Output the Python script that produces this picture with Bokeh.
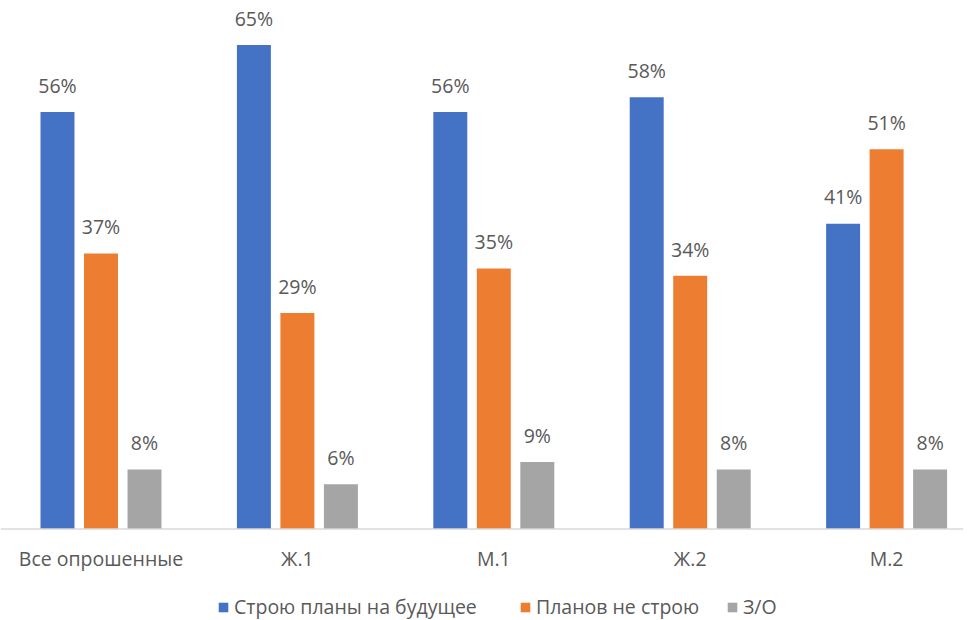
from bokeh.plotting import figure
from bokeh.models import ColumnDataSource, Span, Legend, LegendItem, Range1d
from bokeh.transform import dodge
from bokeh.core.properties import value
from bokeh.embed import file_html
from bokeh.resources import INLINE

categories = ["Все опрошенные", "Ж.1", "М.1", "Ж.2", "М.2"]
series_names = ["Строю планы на будущее", "Планов не строю", "З/О"]
plans = [56, 65, 56, 58, 41]
no_plans = [37, 29, 35, 34, 51]
no_answer = [8, 6, 9, 8, 8]
colors = ["#4472C4", "#ED7D31", "#A5A5A5"]

FONT = "Open Sans"
TXT = "#595959"

xs = list(range(len(categories)))
p = figure(width=963, height=620, output_backend="svg", toolbar_location=None,
           x_range=Range1d(-0.5117, 4.3915), y_range=Range1d(-12.29, 70.98),
           min_border=0)
p.axis.visible = False
p.grid.visible = False
p.outline_line_color = None

series = [plans, no_plans, no_answer]
offsets = [-0.2215, 0.0, 0.2215]
label_gap = 3.6
renderers = []
for vals, col, off in zip(series, colors, offsets):
    src = ColumnDataSource(dict(
        x=xs, top=vals,
        ly=[v + label_gap for v in vals],
        txt=[f"{v}%" for v in vals]))
    r = p.vbar(x=dodge("x", off), top="top", bottom=0, width=0.173, source=src,
               fill_color=col, line_color=None)
    renderers.append(r)
    p.text(x=dodge("x", off), y="ly", text="txt", source=src,
           text_align="center", text_baseline="alphabetic",
           text_font=value(FONT), text_font_size="19.5px", text_color=TXT)

base = Span(location=0, dimension="width", line_color="#D9D9D9", line_width=1.5)
p.add_layout(base)

csrc = ColumnDataSource(dict(x=xs, y=[-3.92] * len(xs), t=categories))
p.text(x="x", y="y", text="t", source=csrc, text_align="center",
       text_baseline="alphabetic", text_font=value(FONT),
       text_font_size="19.5px", text_color=TXT)

legend_x = [217, 519, 726]
for name, r, lx in zip(series_names, renderers, legend_x):
    lg = Legend(items=[LegendItem(label=name, renderers=[r])],
                orientation="horizontal", location=(lx, 0),
                glyph_width=12, glyph_height=12, label_standoff=5,
                padding=0, margin=0, border_line_color=None, background_fill_alpha=0,
                label_text_font=FONT, label_text_font_size="19.5px",
                label_text_color=TXT)
    p.add_layout(lg)

open("out.html", "w").write(file_html(p, INLINE))
